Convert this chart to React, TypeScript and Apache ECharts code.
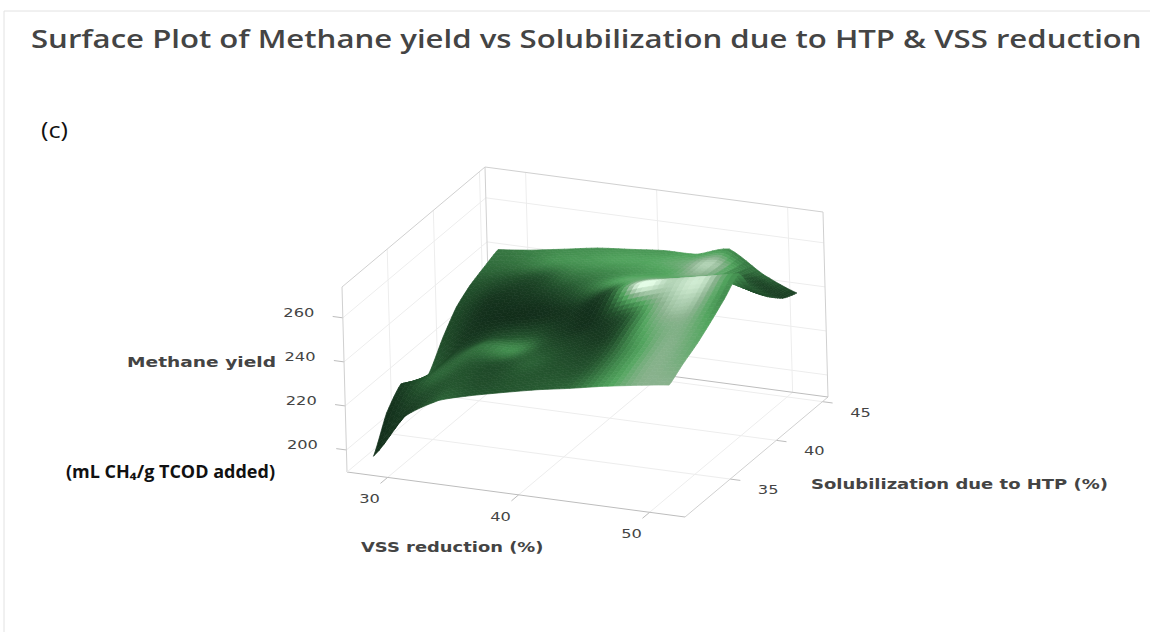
import React, { useEffect, useRef } from "react";
import * as echarts from "echarts";

// Axis ranges of the box
const vssRange = [26.9, 52.7];
const solRange = [30.1, 45.6];
const yieldRange = [190, 274];

// Tick labels
const vssTicks = [30, 40, 50];
const solTicks = [35, 40, 45];
const yieldTicks = [200, 220, 240, 260];

// Surface knots
const vssKnots = [28.6, 31.1, 33.7, 36.2, 38.7, 41.3, 43.8, 46.3, 48.9, 51.4];
const solKnots = [30.6, 32.1, 33.7, 35.2, 36.7, 38.3, 39.8, 41.3, 42.9, 44.4];

// Methane yield, one row per solubilization knot
const yieldValues = [
  [196.7, 216.9, 226.1, 230.3, 233.7, 237.0, 239.6, 242.5, 245.0, 247.1],
  [211.0, 220.2, 228.6, 232.0, 235.4, 238.7, 242.1, 245.4, 248.8, 251.3],
  [218.6, 223.6, 231.2, 233.7, 237.0, 240.4, 244.6, 248.8, 252.2, 255.1],
  [213.5, 225.3, 234.5, 234.5, 238.7, 243.8, 248.8, 253.0, 256.4, 259.7],
  [212.7, 227.0, 233.7, 236.2, 240.4, 246.3, 252.2, 257.2, 261.4, 264.8],
  [223.6, 232.0, 236.2, 239.6, 244.6, 253.8, 259.7, 263.9, 267.3, 270.6],
  [232.0, 237.0, 240.4, 243.8, 248.8, 253.8, 257.2, 258.9, 260.6, 257.2],
  [236.6, 240.4, 243.8, 247.1, 249.6, 252.2, 253.8, 255.5, 255.5, 249.6],
  [239.6, 242.1, 245.4, 248.0, 250.5, 252.2, 253.0, 255.5, 250.5, 243.3],
  [242.1, 243.8, 246.3, 248.8, 250.2, 251.7, 252.0, 256.4, 246.7, 240.4],
];

// Brightness of the rendered surface at each knot
const brightness = [
  [0.05, 0.08, 0.30, 0.24, 0.25, 0.28, 0.34, 0.56, 0.76, 0.78],
  [0.04, 0.18, 0.25, 0.20, 0.25, 0.25, 0.26, 0.52, 0.76, 0.72],
  [0.12, 0.32, 0.26, 0.22, 0.30, 0.20, 0.20, 0.52, 0.76, 0.66],
  [0.30, 0.26, 0.38, 0.50, 0.22, 0.12, 0.14, 0.62, 0.76, 0.60],
  [0.28, 0.12, 0.18, 0.22, 0.10, 0.05, 0.30, 0.75, 0.85, 0.50],
  [0.20, 0.06, 0.03, 0.04, 0.08, 0.20, 1.00, 0.88, 0.92, 0.50],
  [0.20, 0.07, 0.08, 0.15, 0.35, 0.62, 0.68, 0.62, 0.58, 0.20],
  [0.25, 0.20, 0.20, 0.38, 0.45, 0.55, 0.62, 0.78, 0.40, 0.20],
  [0.35, 0.38, 0.50, 0.55, 0.60, 0.62, 0.70, 0.85, 0.25, 0.12],
  [0.40, 0.45, 0.50, 0.52, 0.55, 0.55, 0.60, 0.50, 0.35, 0.15],
];

const titleText = "Surface Plot of Methane yield vs Solubilization due to HTP & VSS reduction";
const vssTitle = "VSS reduction (%)";
const solTitle = "Solubilization due to HTP (%)";
const yieldTitle = "Methane yield";
const unitsText = "(mL CH\u2084/g TCOD added)";
const panelText = "(c)";

const SUBDIV = 6;
const ramp: [number, number[]][] = [
  [0, [16, 41, 24]],
  [0.25, [36, 84, 46]],
  [0.5, [66, 140, 78]],
  [0.62, [84, 166, 96]],
  [0.78, [138, 178, 142]],
  [1, [228, 252, 230]],
];

function shadeColor(t: number) {
  const c = Math.max(0, Math.min(1, t));
  for (let i = 1; i < ramp.length; i++) {
    if (c <= ramp[i][0]) {
      const [a, ca] = ramp[i - 1];
      const [b, cb] = ramp[i];
      const f = (c - a) / (b - a);
      const m = ca.map((v, k) => Math.round(v + (cb[k] - v) * f));
      return `rgb(${m[0]},${m[1]},${m[2]})`;
    }
  }
  return "rgb(228,252,230)";
}

// Oblique projection of the box onto the page
function project(vss: number, sol: number, y: number): number[] {
  const u = (vss - vssRange[0]) / (vssRange[1] - vssRange[0]);
  const v = (sol - solRange[0]) / (solRange[1] - solRange[0]);
  const w = (y - yieldRange[0]) / (yieldRange[1] - yieldRange[0]);
  return [347 + 338 * u + 143 * v - 5 * w, 472 + 45 * u - 120 * v - 185 * w];
}

function cr(p0: number, p1: number, p2: number, p3: number, t: number) {
  return 0.5 * (2 * p1 + (p2 - p0) * t + (2 * p0 - 5 * p1 + 4 * p2 - p3) * t * t + (3 * p1 - p0 - 3 * p2 + p3) * t * t * t);
}

// Smooth display of a knot table between its knots
function sample(table: number[][], r: number, c: number) {
  const n = table.length - 1;
  const m = table[0].length - 1;
  const r0 = Math.min(Math.floor(r), n - 1);
  const c0 = Math.min(Math.floor(c), m - 1);
  const tr = r - r0;
  const tc = c - c0;
  const rowAt = (i: number) => {
    const row = table[Math.max(0, Math.min(n, i))];
    const g = (j: number) => row[Math.max(0, Math.min(m, j))];
    return cr(g(c0 - 1), g(c0), g(c0 + 1), g(c0 + 2), tc);
  };
  return cr(rowAt(r0 - 1), rowAt(r0), rowAt(r0 + 1), rowAt(r0 + 2), tr);
}

// Creased display of a knot table: straight between knots
function sampleLinear(table: number[][], r: number, c: number) {
  const r0 = Math.min(Math.floor(r), table.length - 2);
  const c0 = Math.min(Math.floor(c), table[0].length - 2);
  const tr = r - r0;
  const tc = c - c0;
  const a = table[r0][c0] + (table[r0][c0 + 1] - table[r0][c0]) * tc;
  const b = table[r0 + 1][c0] + (table[r0 + 1][c0 + 1] - table[r0 + 1][c0]) * tc;
  return a + (b - a) * tr;
}

function knotAt(arr: number[], t: number) {
  const i = Math.min(Math.floor(t), arr.length - 2);
  return arr[i] + (arr[i + 1] - arr[i]) * (t - i);
}

type Seg = [number, number, number, number, number, number, string];
const GRID = "#ededed";
const FRAME = "#d0d0d0";
const DARK = "#bdbdbd";
const [vMin, vMax] = vssRange;
const [sMin, sMax] = solRange;
const [yMin, yMax] = yieldRange;
const vssStep = (vMax - vMin) * 0.03;
const solStep = (sMax - sMin) * 0.05;

const segments: Seg[] = [];
vssTicks.forEach((t) => {
  segments.push([t, sMin, yMin, t, sMax, yMin, GRID]);
  segments.push([t, sMax, yMin, t, sMax, yMax, GRID]);
  segments.push([t, sMin - solStep, yMin, t, sMin, yMin, DARK]);
});
solTicks.forEach((t) => {
  segments.push([vMin, t, yMin, vMax, t, yMin, GRID]);
  segments.push([vMin, t, yMin, vMin, t, yMax, GRID]);
  segments.push([vMax, t, yMin, vMax + vssStep, t, yMin, DARK]);
});
yieldTicks.forEach((t) => {
  segments.push([vMin, sMin, t, vMin, sMax, t, GRID]);
  segments.push([vMin, sMax, t, vMax, sMax, t, GRID]);
  segments.push([vMin - vssStep, sMin, t, vMin, sMin, t, DARK]);
});
segments.push(
  [vMin, sMin, yMin, vMin, sMin, yMax, FRAME],
  [vMin, sMin, yMax, vMin, sMax, yMax, FRAME],
  [vMin, sMax, yMin, vMin, sMax, yMax, FRAME],
  [vMin, sMax, yMax, vMax, sMax, yMax, FRAME],
  [vMax, sMax, yMin, vMax, sMax, yMax, FRAME],
  [vMin, sMin, yMin, vMax, sMin, yMin, DARK],
  [vMax, sMin, yMin, vMax, sMax, yMin, FRAME],
  [vMin, sMax, yMin, vMax, sMax, yMin, DARK],
  [vMin, sMin, yMin, vMin, sMax, yMin, GRID]
);

const cells: number[][] = [];
for (let r = solKnots.length - 2; r >= 0; r--) {
  for (let c = 0; c < vssKnots.length - 1; c++) cells.push([r, c]);
}

const TEXT = "#444444";
const DEJAVU = "'DejaVu Sans'";

function pageText(text: string, x: number, y: number, fontSize: number, weight: string, family: string, fill: string, scaleX = 1) {
  return {
    type: "text",
    x,
    y,
    scaleX,
    silent: true,
    style: { text, fontSize, fontWeight: weight, fontFamily: family, fill, textAlign: "left", textVerticalAlign: "middle" },
  };
}

export default function App() {
  const ref = useRef<HTMLDivElement>(null);
  useEffect(() => {
    document.body.style.margin = "0";
    document.body.style.background = "#ffffff";
    const chart = echarts.init(ref.current!, undefined, { renderer: "svg" });
    const labelItems: any[] = [
      ...vssTicks.map((t) => [t, sMin, yMin, -18, 21, String(t)]),
      ...solTicks.map((t) => [vMax, t, yMin, 38, 10, String(t)]),
      ...yieldTicks.map((t) => [vMin, sMin, t, -44, -6, String(t)]),
    ];
    chart.setOption({
      animation: false,
      backgroundColor: "#ffffff",
      grid: { left: 0, top: 0, width: 1150, height: 632, show: false },
      xAxis: { type: "value", min: 0, max: 1150, show: false },
      yAxis: { type: "value", min: 0, max: 632, inverse: true, show: false },
      tooltip: { show: false },
      graphic: [
        { type: "line", silent: true, shape: { x1: 4, y1: 11, x2: 1150, y2: 11 }, style: { stroke: "#e2e2e2", lineWidth: 1 } },
        { type: "line", silent: true, shape: { x1: 4, y1: 11, x2: 4, y2: 632 }, style: { stroke: "#e2e2e2", lineWidth: 1 } },
        pageText(titleText, 31, 38, 26, "600", "'Open Sans'", TEXT, 1.198),
        pageText(panelText, 41, 130, 21, "400", "'Open Sans'", "#111111", 1.2),
        pageText(yieldTitle, 127, 362, 14, "700", DEJAVU, TEXT, 1.33),
        pageText(unitsText, 66, 471, 17, "700", "'Open Sans'", "#111111", 1.06),
        pageText(vssTitle, 361, 547, 14, "700", DEJAVU, TEXT, 1.28),
        pageText(solTitle, 811, 484, 14, "700", DEJAVU, TEXT, 1.286),
      ],
      series: [
        {
          type: "custom",
          coordinateSystem: "cartesian2d",
          silent: true,
          clip: false,
          data: segments.map((s) => s.slice(0, 6)),
          renderItem: (params: any, api: any) => {
            const s = segments[params.dataIndex];
            const a = api.coord(project(s[0], s[1], s[2]));
            const b = api.coord(project(s[3], s[4], s[5]));
            return { type: "line", shape: { x1: a[0], y1: a[1], x2: b[0], y2: b[1] }, style: { stroke: s[6], lineWidth: 1, fill: "none" } };
          },
        },
        {
          type: "custom",
          coordinateSystem: "cartesian2d",
          silent: true,
          clip: false,
          data: labelItems.map((l) => l.slice(0, 5)),
          renderItem: (params: any, api: any) => {
            const l = labelItems[params.dataIndex];
            const p = api.coord(project(l[0], l[1], l[2]));
            return {
              type: "text",
              x: p[0] + l[3],
              y: p[1] + l[4],
              scaleX: 1.25,
              style: { text: l[5], fontSize: 13, fontFamily: DEJAVU, fill: TEXT, textAlign: "center", textVerticalAlign: "middle" },
            };
          },
        },
        {
          type: "custom",
          coordinateSystem: "cartesian2d",
          silent: true,
          clip: false,
          data: cells,
          renderItem: (params: any, api: any) => {
            const [r, c] = cells[params.dataIndex];
            const at = (a: number, b: number) => {
              const rr = r + a / SUBDIV;
              const cc = c + b / SUBDIV;
              const height = 0.5 * sample(yieldValues, rr, cc) + 0.5 * sampleLinear(yieldValues, rr, cc);
              return api.coord(project(knotAt(vssKnots, cc), knotAt(solKnots, rr), height));
            };
            const children: any[] = [];
            for (let a = SUBDIV - 1; a >= 0; a--) {
              for (let b = 0; b < SUBDIV; b++) {
                const fill = shadeColor(sample(brightness, r + (a + 0.5) / SUBDIV, c + (b + 0.5) / SUBDIV));
                children.push({
                  type: "polygon",
                  shape: { points: [at(a, b), at(a, b + 1), at(a + 1, b + 1), at(a + 1, b)] },
                  style: { fill, stroke: fill, lineWidth: 0.7 },
                });
              }
            }
            return { type: "group", children };
          },
        },
      ],
    });
    return () => chart.dispose();
  }, []);
  return <div ref={ref} style={{ width: 1150, height: 632 }} />;
}
